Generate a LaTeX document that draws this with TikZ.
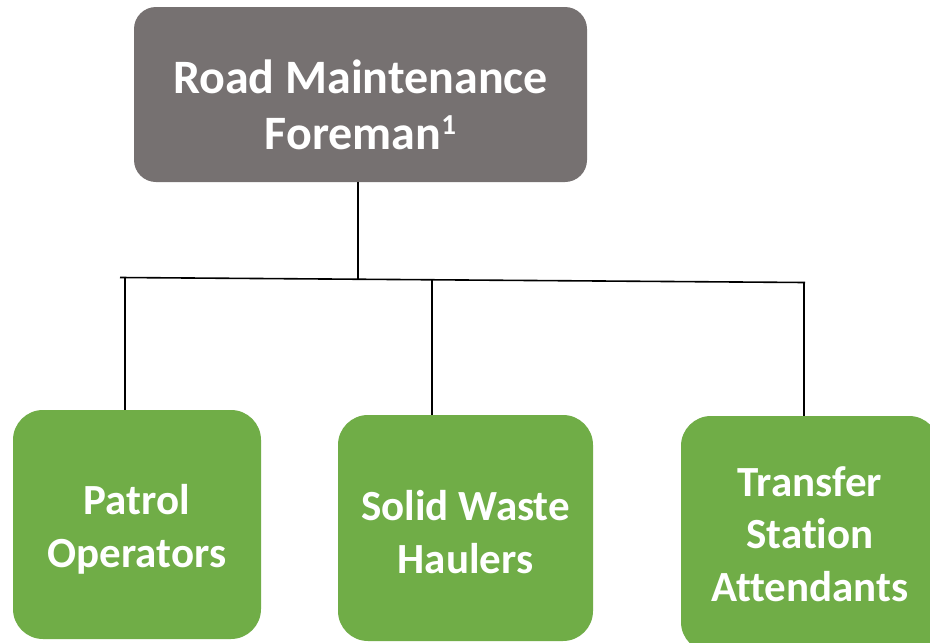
\documentclass[tikz,border=0pt]{standalone}
\usepackage{fontspec}
\setmainfont[Ligatures=NoCommon]{Carlito}
\definecolor{boss}{HTML}{767171}
\definecolor{staff}{HTML}{70AD47}
\begin{document}
\begin{tikzpicture}[x=1pt,y=-1pt,
  topbox/.style={fill=boss,rounded corners=22pt,inner sep=0pt},
  staffbox/.style={fill=staff,rounded corners=30pt,inner sep=0pt},
  toptext/.style={inner sep=0pt,text=white,align=center,
    font=\fontsize{48}{56}\selectfont\bfseries},
  stafftext/.style={inner sep=0pt,text=white,align=center,
    font=\fontsize{43}{52.5}\selectfont\bfseries},
  link/.style={draw=black,line width=1.6pt}]
\clip (0,0) rectangle (930,643);
\fill[white] (0,0) rectangle (930,643);
\node[topbox,minimum width=453pt,minimum height=175pt] (top) at (360.5,94.5) {};
\node[toptext] (topT) at ([yshift=-10pt]top.center)
  {Road Maintenance\\Foreman\raisebox{15pt}{\fontsize{29}{29}\selectfont 1}};
\node[staffbox,minimum width=248pt,minimum height=229pt] (patrol) at (137,524.5) {};
\node[stafftext] (patrolT) at ([yshift=-5pt]patrol.center) {Patrol\\Operators};
\node[staffbox,minimum width=255pt,minimum height=226pt] (solid) at (465.5,528) {};
\node[stafftext] (solidT) at ([yshift=-4pt]solid.center) {Solid Waste\\Haulers};
\node[staffbox,minimum width=258pt,minimum height=236pt] (transfer) at (810,534) {};
\node[stafftext] (transferT) at (transfer.center) {Transfer\\Station\\Attendants};
\coordinate (hl) at (120,277.5);
\coordinate (hr) at (805,282.5);
\coordinate (j) at (358,279.2);
\coordinate (a1) at (125,277.9);
\coordinate (a2) at (432,279.8);
\coordinate (a3) at (804,282.4);
\draw[link] (hl) -- (hr);
\draw[link] (top.south -| j) -- (j);
\draw[link] (a1) -- (a1 |- patrol.north);
\draw[link] (a2) -- (a2 |- solid.north);
\draw[link] (a3) -- (a3 |- transfer.north);
\end{tikzpicture}
\end{document}
